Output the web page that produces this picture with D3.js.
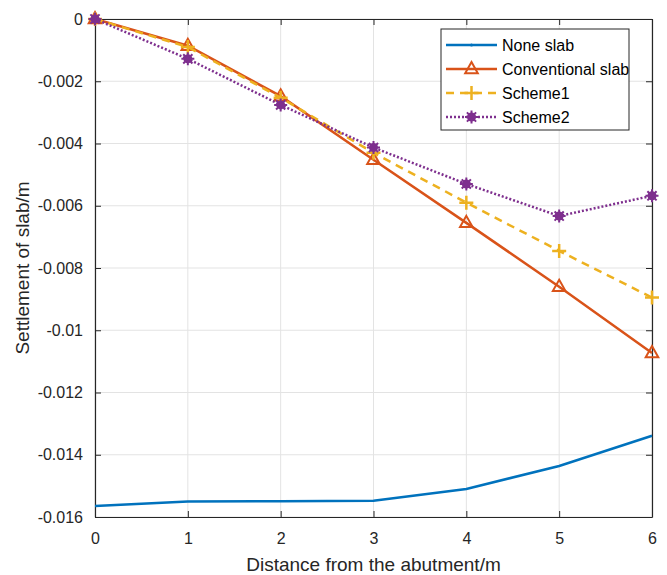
<!DOCTYPE html>
<html>
<head>
<meta charset="utf-8">
<title>Settlement of slab</title>
<style>
  body { margin: 0; background: #fff; }
  svg text { font-family: "Liberation Sans", Arial, sans-serif; fill: #262626; }
</style>
</head>
<body>
<div id="chart"></div>
<script src="https://cdn.jsdelivr.net/npm/d3@7"></script>
<script>
    // data
    var distance = [0, 1, 2, 3, 4, 5, 6];
    var noneSlab = [-0.01565, -0.0155, -0.01549, -0.01548, -0.0151, -0.01436, -0.01339];
    var conventionalSlab = [0, -0.00086, -0.00248, -0.00452, -0.00655, -0.0086, -0.01073];
    var scheme1 = [0, -0.0009, -0.00253, -0.0043, -0.0059, -0.00745, -0.00895];
    var scheme2 = [0, -0.00128, -0.00276, -0.00413, -0.0053, -0.00633, -0.00568];
    var xTicks = [0, 1, 2, 3, 4, 5, 6];
    var yTicks = [0, -0.002, -0.004, -0.006, -0.008, -0.01, -0.012, -0.014, -0.016];

    var series = [
        {name: 'None slab', values: noneSlab, color: '#0072BD', dash: null, marker: 'dot'},
        {name: 'Conventional slab', values: conventionalSlab, color: '#D95319', dash: null, marker: 'triangle'},
        {name: 'Scheme1', values: scheme1, color: '#EDB120', dash: '8,6', marker: 'plus'},
        {name: 'Scheme2', values: scheme2, color: '#7E2F8E', dash: '2,2', marker: 'star'}
    ];

    var W = 667, H = 575;
    var margin = {top: 19, right: 15, bottom: 58, left: 95};
    var width = W - margin.left - margin.right;
    var height = H - margin.top - margin.bottom;

    var x = d3.scaleLinear().domain([0, 6]).range([0, width]);
    var y = d3.scaleLinear().domain([-0.016, 0]).range([height, 0]);

    var svg = d3.select('#chart').append('svg')
            .attr('width', W)
            .attr('height', H);
    var g = svg.append('g')
            .attr('transform', 'translate(' + margin.left + ',' + margin.top + ')');

    // grid
    g.append('g').selectAll('line').data(xTicks).enter().append('line')
            .attr('x1', function (d) { return x(d); })
            .attr('x2', function (d) { return x(d); })
            .attr('y1', 0).attr('y2', height)
            .style('stroke', '#e3e3e3').style('stroke-width', 1);
    g.append('g').selectAll('line').data(yTicks).enter().append('line')
            .attr('y1', function (d) { return y(d); })
            .attr('y2', function (d) { return y(d); })
            .attr('x1', 0).attr('x2', width)
            .style('stroke', '#e3e3e3').style('stroke-width', 1);

    // axes, ticks inward on all four sides
    var fmt = function (d) { return d === 0 ? '0' : String(+d.toFixed(3)); };
    g.append('g').attr('transform', 'translate(0,' + height + ')')
            .call(d3.axisBottom(x).tickValues(xTicks).tickFormat(d3.format('d')).tickSizeInner(-6).tickSizeOuter(0).tickPadding(16));
    g.append('g')
            .call(d3.axisLeft(y).tickValues(yTicks).tickFormat(fmt).tickSizeInner(-6).tickSizeOuter(0).tickPadding(12));
    g.append('g')
            .call(d3.axisTop(x).tickValues(xTicks).tickSizeInner(-6).tickSizeOuter(0).tickFormat(''));
    g.append('g').attr('transform', 'translate(' + width + ',0)')
            .call(d3.axisRight(y).tickValues(yTicks).tickSizeInner(-6).tickSizeOuter(0).tickFormat(''));
    g.selectAll('.domain').style('stroke', '#262626').style('stroke-width', 1.2);
    g.selectAll('.tick line').style('stroke', '#262626');
    g.selectAll('.tick text').style('font-size', '16px').style('font-family', '"Liberation Sans", Arial, sans-serif').attr('fill', '#262626');

    // axis titles
    svg.append('text')
            .attr('x', margin.left + width / 2)
            .attr('y', 571)
            .attr('text-anchor', 'middle')
            .style('font-size', '19px')
            .text('Distance from the abutment/m');
    svg.append('text')
            .attr('transform', 'translate(29,' + (margin.top + height / 2) + ') rotate(-90)')
            .attr('text-anchor', 'middle')
            .style('font-size', '19px')
            .text('Settlement of slab/m');

    var line = d3.line()
            .x(function (d, i) { return x(distance[i]); })
            .y(function (d) { return y(d); });

    function drawMarker(sel, s, cx, cy) {
        if (s.marker === 'triangle') {
            var r = 7;
            sel.append('path')
                    .attr('d', 'M' + cx + ',' + (cy - r) + 'L' + (cx + r * 0.9) + ',' + (cy + r * 0.6) + 'L' + (cx - r * 0.9) + ',' + (cy + r * 0.6) + 'Z')
                    .style('fill', 'none').style('stroke', s.color).style('stroke-width', 2);
        } else if (s.marker === 'plus') {
            sel.append('path')
                    .attr('d', 'M' + (cx - 7) + ',' + cy + 'H' + (cx + 7) + 'M' + cx + ',' + (cy - 7) + 'V' + (cy + 7))
                    .style('stroke', s.color).style('stroke-width', 2.5);
        } else if (s.marker === 'star') {
            sel.append('circle').attr('cx', cx).attr('cy', cy).attr('r', 4.5).style('fill', s.color);
            var p = '';
            for (var k = 0; k < 8; k++) {
                var a = k * Math.PI / 4;
                p += 'M' + cx + ',' + cy + 'L' + (cx + 6.5 * Math.cos(a)) + ',' + (cy + 6.5 * Math.sin(a));
            }
            sel.append('path').attr('d', p).style('stroke', s.color).style('stroke-width', 2);
        } else {
            sel.append('circle').attr('cx', cx).attr('cy', cy).attr('r', 1.5).style('fill', s.color);
        }
    }

    var plot = g.append('g');
    series.forEach(function (s) {
        plot.append('path')
                .attr('d', line(s.values))
                .style('fill', 'none')
                .style('stroke', s.color)
                .style('stroke-width', 2.5)
                .style('stroke-dasharray', s.dash);
        if (s.marker !== 'dot') {
            s.values.forEach(function (v, i) {
                drawMarker(plot, s, x(distance[i]), y(v));
            });
        }
    });

    // legend
    var lg = svg.append('g').attr('transform', 'translate(441,29)');
    lg.append('rect').attr('width', 188).attr('height', 101)
            .style('fill', '#fff').style('stroke', '#262626').style('stroke-width', 1);
    series.forEach(function (s, i) {
        var yy = 16 + i * 24;
        lg.append('line').attr('x1', 5).attr('x2', 56).attr('y1', yy).attr('y2', yy)
                .style('stroke', s.color).style('stroke-width', 2.5)
                .style('stroke-dasharray', s.dash);
        drawMarker(lg, s, 30.5, yy);
        lg.append('text').attr('x', 61).attr('y', yy + 6)
                .style('font-size', '16px')
                .style('fill', '#000')
                .text(s.name);
    });
</script>
</body>
</html>
